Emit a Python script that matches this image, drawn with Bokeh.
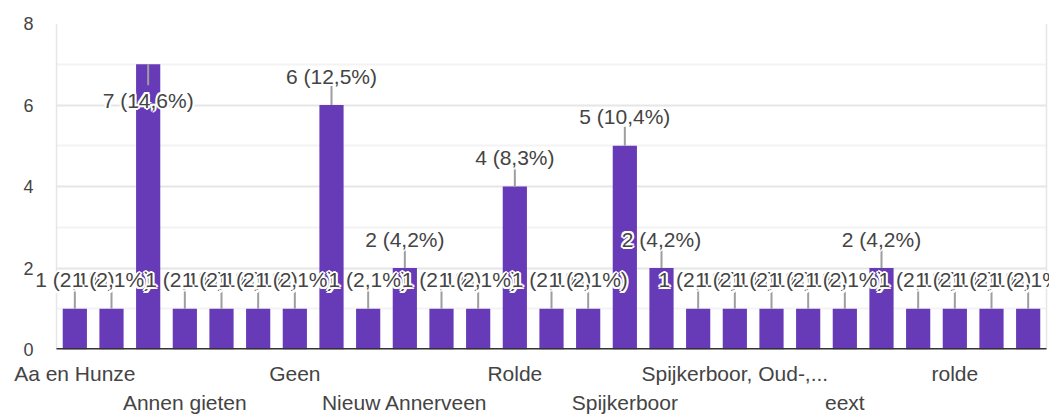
from bokeh.plotting import figure
from bokeh.models import (Range1d, FixedTicker, LinearAxis, Span, ColumnDataSource,
                          LabelSet, BoxAnnotation)
from bokeh.core.properties import value
from bokeh.embed import file_html
from bokeh.resources import INLINE

categories = [
    "Aa en Hunze", "Anloo", "Annen", "Annen gieten", "Eext", "Gasselte",
    "Geen", "Gieten", "Grolloo", "Nieuw Annerveen", "Nijlande", "Oud-Annerveen",
    "Rolde", "Schipborg", "Schoonloo", "Spijkerboor", "Spijkerboor (Aa en Hunze)",
    "Spijkerboor (Annen)", "Spijkerboor, Oud-,...", "Zeegse", "Zuidlaren",
    "eext", "gasselte", "gieten", "rolde", "schoonloo", "zeegse",
]
counts = [1, 1, 7, 1, 1, 1, 1, 6, 1, 2, 1, 1, 4, 1, 1, 5, 2, 1, 1, 1, 1, 1, 2, 1, 1, 1, 1]
y_ticks = [0, 2, 4, 6, 8]
y_minor_ticks = [1, 3, 5, 7]

FONT = "Liberation Sans"
BAR = "#673ab7"
TXT = "#444444"
BORDER = "#e6e6e6"

n = len(categories)
PLOT_W = 990          # width of the category area in px
PAD_L, PAD_R = 22, 3  # extra room so value labels are not clipped
FRAME_H = 326
Y_MAX = 8
px = FRAME_H / Y_MAX  # pixels per y unit
ux = PLOT_W / n       # pixels per category

total = sum(counts)
idx = list(range(n))
top_val = max(counts)

labels = [f"{c} ({c / total * 100:.1f}%)".replace(".", ",") for c in counts]
inside = [c == top_val for c in counts]
label_y = [c - 36 / px if ins else c + 29 / px for c, ins in zip(counts, inside)]
stem_y = [c - 21 / px if ins else c + 19 / px for c, ins in zip(counts, inside)]

src = ColumnDataSource(dict(x=idx, top=counts, label=labels, ly=label_y, sy=stem_y))

x0, x1 = -0.5, n - 0.5
p = figure(
    frame_width=PLOT_W + PAD_L + PAD_R, frame_height=FRAME_H,
    x_range=Range1d(x0 - PAD_L / ux, x1 + PAD_R / ux), y_range=Range1d(0, Y_MAX),
    output_backend="svg", toolbar_location=None,
    min_border_left=56 - PAD_L, min_border_right=0, min_border_top=23, min_border_bottom=0,
)
p.outline_line_color = None
p.background_fill_color = "white"

# grid
p.xgrid.visible = False
p.ygrid.ticker = FixedTicker(ticks=y_ticks, minor_ticks=y_minor_ticks)
p.ygrid.grid_line_color = "#e6e6e6"
p.ygrid.grid_line_width = 2
p.ygrid.minor_grid_line_color = "#f3f3f3"
p.ygrid.minor_grid_line_width = 2

# hide grid outside the category area, and draw the side borders
p.add_layout(BoxAnnotation(right=x0, fill_color="white", fill_alpha=1, line_color=None, level="underlay"))
p.add_layout(BoxAnnotation(left=x1, fill_color="white", fill_alpha=1, line_color=None, level="underlay"))
p.add_layout(Span(location=x0, dimension="height", line_color=BORDER, line_width=1.5, level="underlay"))
p.add_layout(Span(location=x1, dimension="height", line_color=BORDER, line_width=1.5, level="underlay"))

# y axis
ya = p.yaxis[0]
ya.ticker = FixedTicker(ticks=y_ticks)
ya.axis_line_color = None
ya.major_tick_line_color = None
ya.minor_tick_line_color = None
ya.major_tick_out = 0
ya.major_tick_in = 0
ya.major_label_standoff = 1
ya.major_label_text_font = FONT
ya.major_label_text_font_size = "18px"
ya.major_label_text_color = TXT

# x axes: alternating rows of labels, every third category
row1 = idx[0::6]
row2 = idx[3::6]


def style_x(ax, ticks, standoff):
    ax.ticker = FixedTicker(ticks=ticks)
    ax.major_label_overrides = {i: categories[i] for i in ticks}
    ax.axis_line_color = None
    ax.major_tick_line_color = None
    ax.minor_tick_line_color = None
    ax.major_tick_out = 0
    ax.major_tick_in = 0
    ax.major_label_standoff = standoff
    ax.major_label_text_font = FONT
    ax.major_label_text_font_size = "21px"
    ax.major_label_text_color = TXT


style_x(p.xaxis[0], row1, 12)
ax2 = LinearAxis()
style_x(ax2, row2, 3)
p.add_layout(ax2, "below")

# bars
p.vbar(x="x", top="top", width=0.66, bottom=0, source=src, fill_color=BAR, line_color=None)

# baseline across the category area
p.segment(x0=[x0], y0=[0], x1=[x1], y1=[0], line_color="#333333", line_width=3)

# stems
p.segment(x0="x", y0="top", x1="x", y1="sy", source=src, line_color="#9e9e9e", line_width=2)

# value labels, each with a white halo drawn just before it
halo = [(-2, 0), (2, 0), (0, -2), (0, 2), (-1.5, -1.5), (1.5, -1.5), (-1.5, 1.5), (1.5, 1.5)]
for i in idx:
    k = len(halo)
    ls = ColumnDataSource(dict(
        x=[i] * (k + 1), y=[label_y[i]] * (k + 1), t=[labels[i]] * (k + 1),
        xo=[h[0] for h in halo] + [0], yo=[h[1] for h in halo] + [0],
        c=["white"] * k + [TXT],
    ))
    p.add_layout(LabelSet(
        x="x", y="y", text="t", x_offset="xo", y_offset="yo", source=ls,
        text_align="center", text_baseline="middle",
        text_font=value(FONT), text_font_size=value("21px"), text_color="c",
    ))

open("out.html", "w").write(file_html(p, INLINE))
